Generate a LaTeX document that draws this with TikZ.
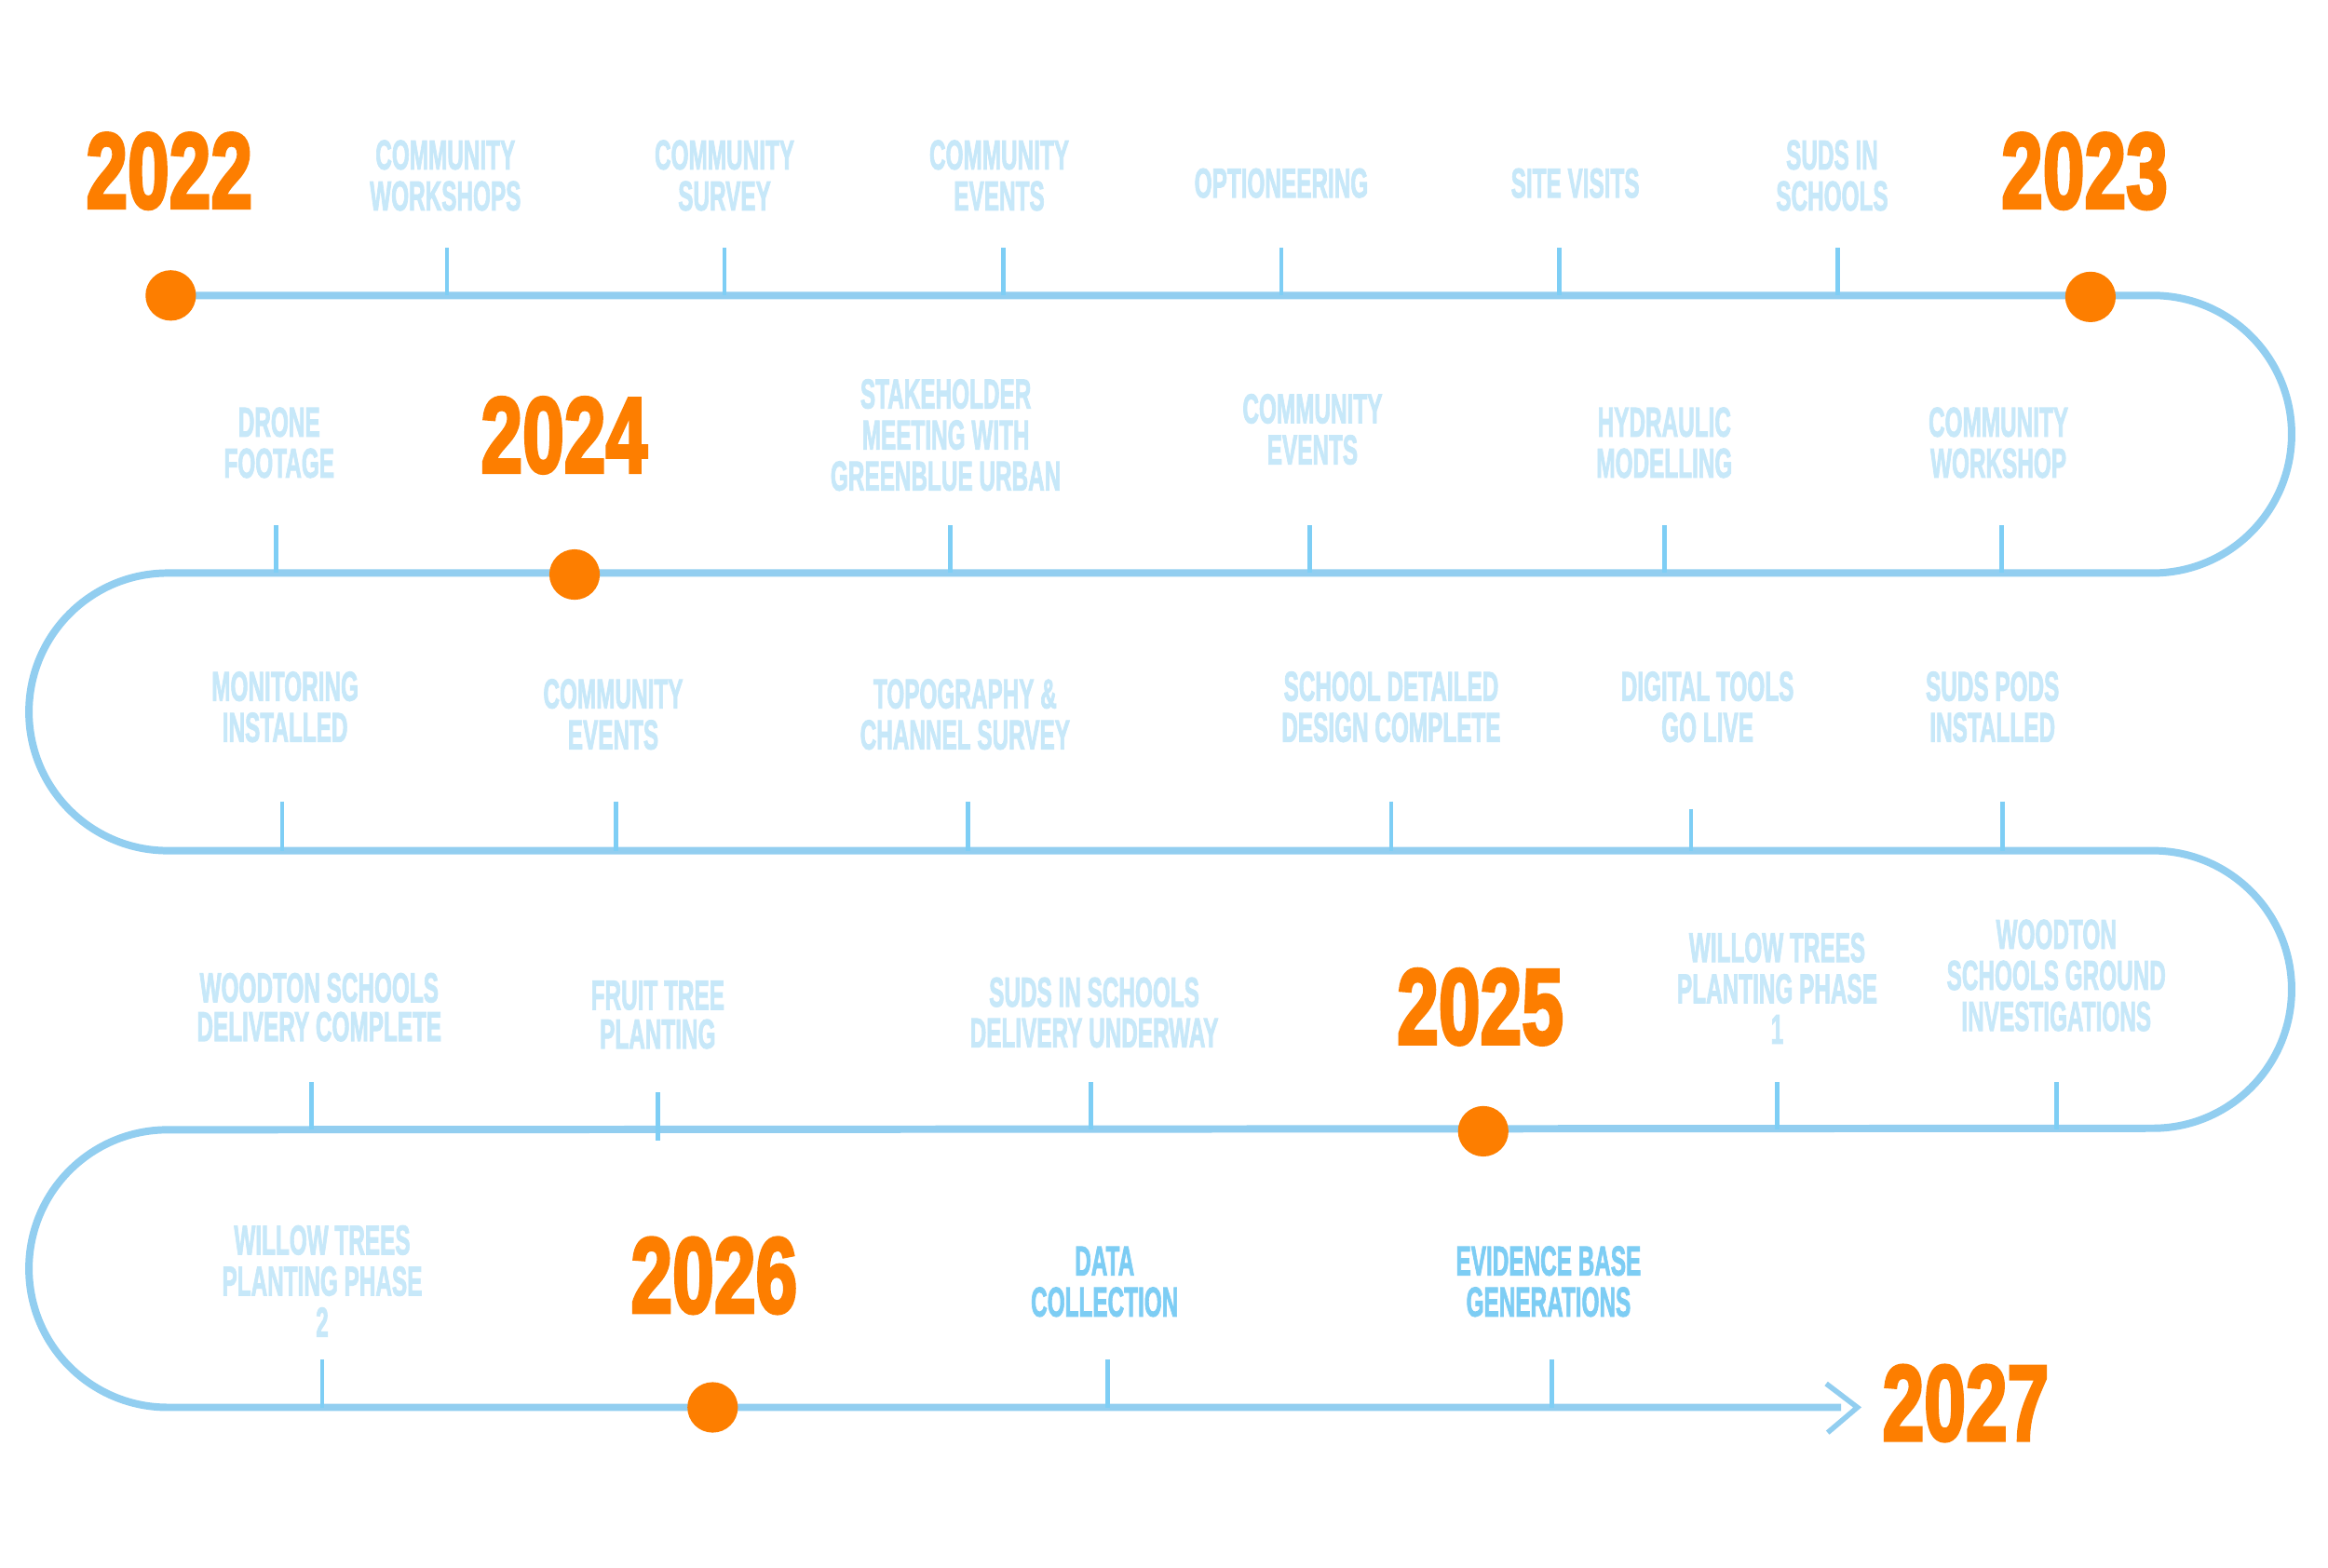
\documentclass[tikz,border=0pt]{standalone}
\usepackage{fontspec}
\usepackage{graphicx}
\newfontfamily\tlfont{Liberation Sans}[BoldFeatures={FakeBold=2.5}]
\newfontfamily\yrfont{Liberation Sans}[BoldFeatures={FakeBold=3.5}]
\definecolor{tlorange}{RGB}{253,126,0}
\definecolor{tlline}{RGB}{146,206,240}
\definecolor{tltick}{RGB}{126,206,245}
\definecolor{tllight}{RGB}{199,232,249}
\definecolor{tldark}{RGB}{125,205,244}
\tikzset{
  tl/.style={draw=tlline, line width=5pt},
  tickmark/.style={draw=tltick, line width=3pt},
  yeardot/.style={circle, fill=tlorange, minimum size=34pt, inner sep=0},
  lbl/.style={anchor=base, inner sep=0, text=tllight, font=\tlfont\bfseries\fontsize{28}{27}\selectfont},
  lbldark/.style={lbl, text=tldark},
  yr/.style={anchor=base, inner sep=0, text=tlorange, font=\yrfont\bfseries\fontsize{72}{72}\selectfont}
}
\newcommand\tlab[4][lbl]{\node[#1] (#2) at (#3) {\scalebox{0.545}[1]{\begin{tabular}[t]{@{}c@{}}#4\end{tabular}}};}
\newcommand\tlabtight[3]{\node[lbl] (#1) at (#2) {\scalebox{0.545}[1]{\renewcommand\arraystretch{0.82}\begin{tabular}[t]{@{}c@{}}#3\end{tabular}}};}
\newcommand\tyear[3]{\node[yr] (#1) at (#2) {\scalebox{0.70}[1]{#3}};}
\begin{document}
\begin{tikzpicture}[x=1pt, y=-1pt]
\fill[white] (0,0) rectangle (1568,1055.6);
\useasboundingbox (0,0) rectangle (1568,1055.6);
% coordinates of the snake
\coordinate (r1s) at (115,199);
\coordinate (r1e) at (1450,199);
\coordinate (r2s) at (1450,386);
\coordinate (r2e) at (113,386);
\coordinate (r3s) at (113,573);
\coordinate (r3e) at (1450,573);
\coordinate (r4s) at (1450,761);
\coordinate (r4e) at (113,761);
\coordinate (r5s) at (113,948);
\coordinate (r5e) at (1240,948);
\coordinate (ar1) at (1230,932);
\coordinate (ar2) at (1251,948);
\coordinate (ar3) at (1231,965);
% main line
\draw[tl] (r1s) -- (r1e) arc[start angle=-90, end angle=90, radius=93.5]
  -- (r2e) arc[start angle=270, end angle=90, radius=93.5]
  -- (r3e) arc[start angle=-90, end angle=90, radius=93.5]
  -- (r4e) arc[start angle=270, end angle=90, radius=93.5]
  -- (r5e);
\draw[tl, line width=3.5pt] (ar1) -- (ar2) -- (ar3);
% ticks
\foreach \x in {301,488,676,863,1050,1238} \draw[tickmark] (\x,167) -- (\x,199);
\foreach \x in {186,640,882,1121,1348} \draw[tickmark] (\x,354) -- (\x,386);
\foreach \x in {190,415,652,937,1349} \draw[tickmark] (\x,540) -- (\x,573);
\draw[tickmark] (1139,545) -- (1139,573);
\foreach \x in {210,735,1197,1385} \draw[tickmark] (\x,729) -- (\x,761);
\draw[tickmark] (443,736) -- (443,768);
\foreach \x in {217,746,1045} \draw[tickmark] (\x,916) -- (\x,948);
% dots
\node[yeardot] (d22) at (115,199) {};
\node[yeardot] (d23) at (1408,200) {};
\node[yeardot] (d24) at (387,387) {};
\node[yeardot] (d25) at (999,762) {};
\node[yeardot] (d26) at (480,948) {};
% years
\tyear{y22}{114,140}{2022}
\tyear{y23}{1404,140}{2023}
\tyear{y24}{380,318}{2024}
\tyear{y25}{997,703}{2025}
\tyear{y26}{481,884}{2026}
\tyear{y27}{1324,970}{2027}
% row 1 labels
\tlab{a1}{300,114}{COMMUNITY\\WORKSHOPS}
\tlab{a2}{488,114}{COMMUNITY\\SURVEY}
\tlab{a3}{673,114}{COMMUNITY\\EVENTS}
\tlab{a4}{863,133}{OPTIONEERING}
\tlab{a5}{1061,133}{SITE VISITS}
\tlab{a6}{1234,114}{SUDS IN\\SCHOOLS}
% row 2 labels
\tlab{b1}{188,294}{DRONE\\FOOTAGE}
\tlab{b2}{637,275}{STAKEHOLDER\\MEETING WITH\\GREENBLUE URBAN}
\tlab{b3}{884,285}{COMMUNITY\\EVENTS}
\tlab{b4}{1121,294}{HYDRAULIC\\MODELLING}
\tlab{b5}{1346,294}{COMMUNITY\\WORKSHOP}
% row 3 labels
\tlab{c1}{192,472}{MONITORING\\INSTALLED}
\tlab{c2}{413,477}{COMMUNITY\\EVENTS}
\tlab{c3}{650,477}{TOPOGRAPHY \&\\CHANNEL SURVEY}
\tlab{c4}{937,472}{SCHOOL DETAILED\\DESIGN COMPLETE}
\tlab{c5}{1150,472}{DIGITAL TOOLS\\GO LIVE}
\tlab{c6}{1342,472}{SUDS PODS\\INSTALLED}
% row 4 labels
\tlabtight{e1}{215,675}{WOODTON SCHOOLS\\DELIVERY COMPLETE}
\tlabtight{e2}{443,680}{FRUIT TREE\\PLANTING}
\tlab{e3}{737,678}{SUDS IN SCHOOLS\\DELIVERY UNDERWAY}
\tlab{e4}{1197,648}{WILLOW TREES\\PLANTING PHASE\\1}
\tlab{e5}{1385,639}{WOODTON\\SCHOOLS GROUND\\INVESTIGATIONS}
% row 5 labels
\tlab{f1}{217,845}{WILLOW TREES\\PLANTING PHASE\\2}
\tlab[lbldark]{f2}{744,859}{DATA\\COLLECTION}
\tlab[lbldark]{f3}{1043,859}{EVIDENCE BASE\\GENERATIONS}
\end{tikzpicture}
\end{document}
